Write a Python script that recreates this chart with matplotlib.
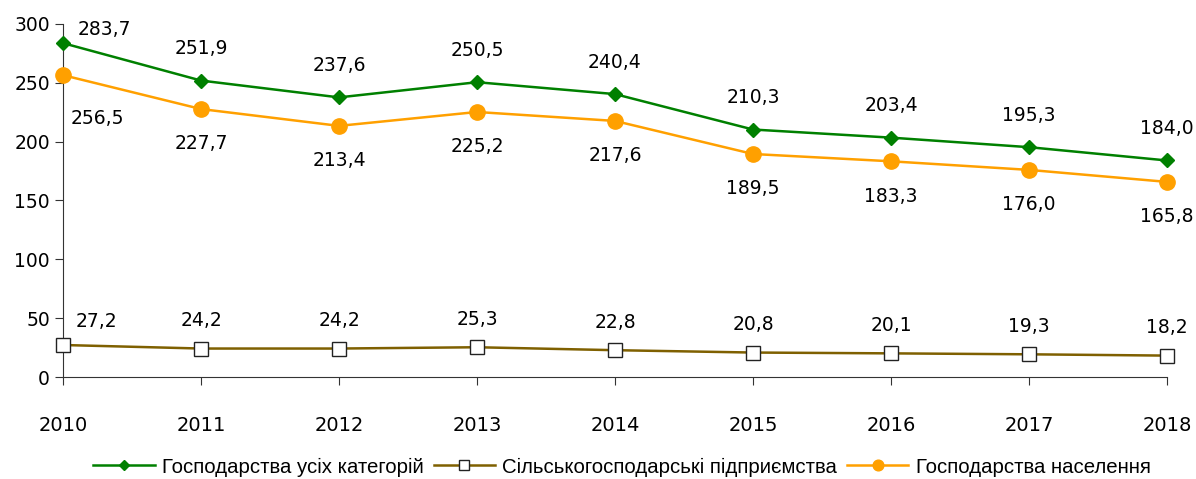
import matplotlib
matplotlib.use("Agg")
import matplotlib.pyplot as plt

years = [2010, 2011, 2012, 2013, 2014, 2015, 2016, 2017, 2018]
all_farms = [283.7, 251.9, 237.6, 250.5, 240.4, 210.3, 203.4, 195.3, 184.0]
enterprises = [27.2, 24.2, 24.2, 25.3, 22.8, 20.8, 20.1, 19.3, 18.2]
households = [256.5, 227.7, 213.4, 225.2, 217.6, 189.5, 183.3, 176.0, 165.8]

names = ["Господарства усіх категорій", "Сільськогосподарські підприємства", "Господарства населення"]

def fmt(v):
    return ("%.1f" % v).replace(".", ",")

fig = plt.figure(figsize=(11.96, 4.79), dpi=100)
ax = fig.add_axes([0.0527, 0.2129, 0.923, 0.7371])

x = list(range(len(years)))
ax.plot(x, all_farms, color="#008000", lw=1.8, marker="D", ms=7, label=names[0], clip_on=False, zorder=3)
ax.plot(x, enterprises, color="#7F6000", lw=1.8, marker="s", ms=10, mfc="white", mec="#222222", mew=1,
        label=names[1], clip_on=False, zorder=3)
ax.plot(x, households, color="#FFA000", lw=1.8, marker="o", ms=11, label=names[2], clip_on=False, zorder=3)

lab_font = dict(fontsize=13.5, family="DejaVu Sans", color="black")
for i in x:
    if i == 0:
        g_off, e_off, h_off = (30, 10), (24, 17), (25, -31)
    else:
        g_off, e_off, h_off = (0, 23), (0, 20), (0, -25)
    ax.annotate(fmt(all_farms[i]), (i, all_farms[i]), xytext=g_off, textcoords="offset points",
                ha="center", va="center", **lab_font)
    ax.annotate(fmt(enterprises[i]), (i, enterprises[i]), xytext=e_off, textcoords="offset points",
                ha="center", va="center", **lab_font)
    ax.annotate(fmt(households[i]), (i, households[i]), xytext=h_off, textcoords="offset points",
                ha="center", va="center", **lab_font)

ax.set_xlim(0, len(years) - 1)
ax.set_ylim(0, 300)
ax.set_yticks(range(0, 301, 50))
ax.set_xticks(x)
ax.set_xticklabels([str(y) for y in years])
for s in ["top", "right"]:
    ax.spines[s].set_visible(False)
for s in ["left", "bottom"]:
    ax.spines[s].set_color("#333333")
ax.tick_params(axis="y", direction="out", length=6, labelsize=13.5, color="#333333")
ax.tick_params(axis="x", direction="out", length=6, labelsize=14, pad=22, color="#333333")

leg = fig.legend(loc="center", bbox_to_anchor=(0.52, 0.025), ncol=3, frameon=False,
                 prop={"family": "Liberation Sans", "size": 14.7}, handlelength=3.0,
                 columnspacing=0.5, handletextpad=0.35, markerscale=0.7)

fig.savefig("out.png", dpi=100)
